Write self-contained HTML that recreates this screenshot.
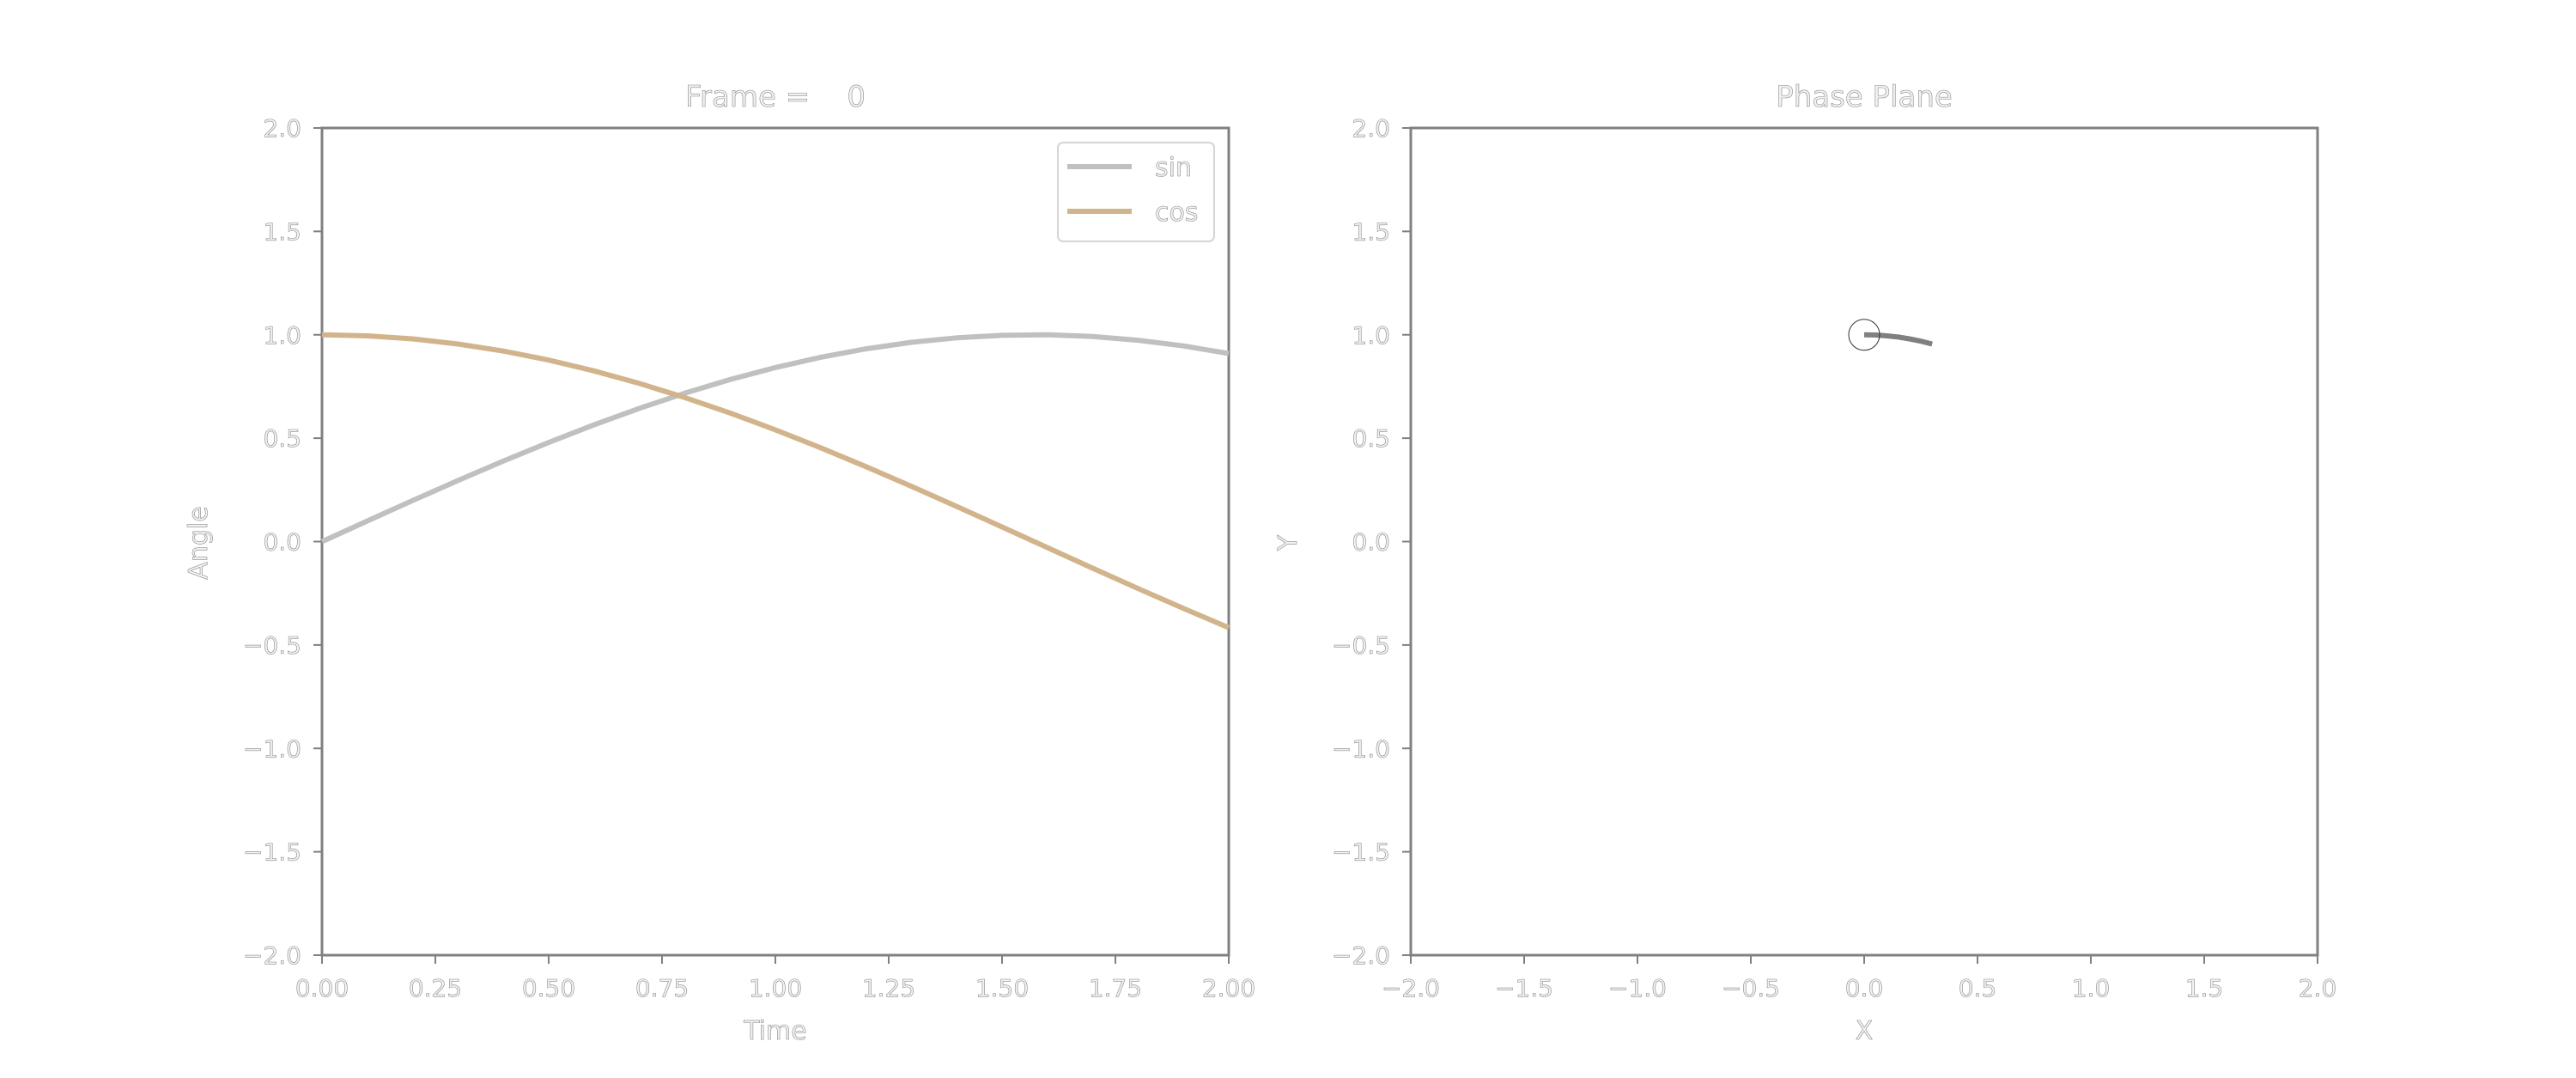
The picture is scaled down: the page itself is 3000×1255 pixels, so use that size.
<!DOCTYPE html>
<html><head><meta charset="utf-8"><style>
html,body{margin:0;padding:0;background:#fff;}
svg text{font-family:"DejaVu Sans","Liberation Sans",sans-serif;fill:#f2f2f2;stroke:#8a8a8a;stroke-width:0.6px;white-space:pre;}
</style></head><body>
<svg id="fig" width="3000" height="1250" viewBox="0 0 3000 1250" xmlns="http://www.w3.org/2000/svg"></svg>
<script>
const tValues=[0,0.1,0.2,0.3,0.4,0.5,0.6,0.7,0.8,0.9,1.0,1.1,1.2,1.3,1.4,1.5,1.6,1.7,1.8,1.9,2.0];
const sinValues=[0,0.0998,0.1987,0.2955,0.3894,0.4794,0.5646,0.6442,0.7174,0.7833,0.8415,0.8912,0.9320,0.9636,0.9854,0.9975,0.9996,0.9917,0.9738,0.9463,0.9093];
const cosValues=[1,0.9950,0.9801,0.9553,0.9211,0.8776,0.8253,0.7648,0.6967,0.6216,0.5403,0.4536,0.3624,0.2675,0.1700,0.0707,-0.0292,-0.1288,-0.2272,-0.3233,-0.4161];
const trailX=[0,0.05,0.1,0.15,0.2,0.25,0.3];
const trailY=[1,0.9988,0.9950,0.9888,0.9801,0.9689,0.9553];
const markerPoint=[0,1];
const yTicks=[-2,-1.5,-1,-0.5,0,0.5,1,1.5,2];
const xTicksLeft=[0,0.25,0.5,0.75,1,1.25,1.5,1.75,2];
const xTicksRight=[-2,-1.5,-1,-0.5,0,0.5,1,1.5,2];

const NS="http://www.w3.org/2000/svg";
const svg=document.getElementById('fig');
function mk(tag,attrs,parent,text){const e=document.createElementNS(NS,tag);for(const k in attrs)e.setAttribute(k,attrs[k]);if(text!==undefined)e.textContent=text;(parent||svg).appendChild(e);return e;}
const yTop=149,yBot=1112;
const yS=v=>yTop+(2-v)/4*(yBot-yTop);
const L={x0:375,x1:1431},R={x0:1643,x1:2699};
const xL=t=>L.x0+t/2*(L.x1-L.x0);
const xR=x=>R.x0+(x+2)/4*(R.x1-R.x0);
const fmt=(v,d)=>(v<0?'\u2212':'')+Math.abs(v).toFixed(d);

function axes(name,ax,xs,xTicks,dec,title,xlab,ylab,ylx){
  const g=mk('g',{}, svg);
  
  
  const f=mk('rect',{x:ax.x0,y:yTop,width:ax.x1-ax.x0,height:yBot-yTop,fill:'none',stroke:'#808080','stroke-width':3},g);
  
  
  yTicks.forEach(v=>{
    const y=yS(v);
    const tk=mk('line',{x1:ax.x0-10,x2:ax.x0,y1:y,y2:y,stroke:'#808080','stroke-width':2},g);
    
    
    const tl=mk('text',{x:ax.x0-24,y:y+10,'text-anchor':'end','font-size':28},g,fmt(v,1));
    
    
  });
  xTicks.forEach(v=>{
    const x=xs(v);
    const tk=mk('line',{x1:x,x2:x,y1:yBot,y2:yBot+10,stroke:'#808080','stroke-width':2},g);
    
    
    const tl=mk('text',{x:x,y:1160,'text-anchor':'middle','font-size':28},g,fmt(v,dec));
    
    
  });
  const t=mk('text',{x:(ax.x0+ax.x1)/2,y:124,'text-anchor':'middle','font-size':34},g,title);
  
  
  const xl=mk('text',{x:(ax.x0+ax.x1)/2,y:1210,'text-anchor':'middle','font-size':30},g,xlab);
  
  
  const yl=mk('text',{x:ylx,y:632,'text-anchor':'middle','font-size':30,transform:`rotate(-90 ${ylx} 632)`},g,ylab);
  
  
  return g;
}
const gL=axes('time-series-axes',L,xL,xTicksLeft,2,'Frame =    0','Time','Angle',241);
const gR=axes('phase-plane-axes',R,xR,xTicksRight,1,'Phase Plane','X','Y',1510);

function poly(xs,ys,fx,col,w,name,parent){
  const p=xs.map((x,i)=>fx(x).toFixed(1)+','+yS(ys[i]).toFixed(1)).join(' ');
  const e=mk('polyline',{points:p,fill:'none',stroke:col,'stroke-width':w,'stroke-linejoin':'round'},parent);
  
  
  return e;
}
poly(tValues,sinValues,xL,'#c0c0c0',6,'sin-line',gL);
poly(tValues,cosValues,xL,'#d2b48c',6,'cos-line',gL);

const lg=mk('g',{},gL);


mk('rect',{x:1232,y:166,width:182,height:115,rx:6,fill:'#fff',stroke:'#d6d6d6','stroke-width':2},lg);
const l1=mk('line',{x1:1243,x2:1318,y1:194,y2:194,stroke:'#c0c0c0','stroke-width':6},lg);


mk('text',{x:1345,y:205,'font-size':30},lg,'sin');
const l2=mk('line',{x1:1243,x2:1318,y1:246,y2:246,stroke:'#d2b48c','stroke-width':6},lg);


mk('text',{x:1345,y:257,'font-size':30},lg,'cos');

poly(trailX,trailY,xR,'#808080',6,'phase-trail',gR);
const c=mk('circle',{cx:xR(markerPoint[0]),cy:yS(markerPoint[1]),r:18,fill:'none',stroke:'#333','stroke-width':1},gR);


</script>
</body></html>
